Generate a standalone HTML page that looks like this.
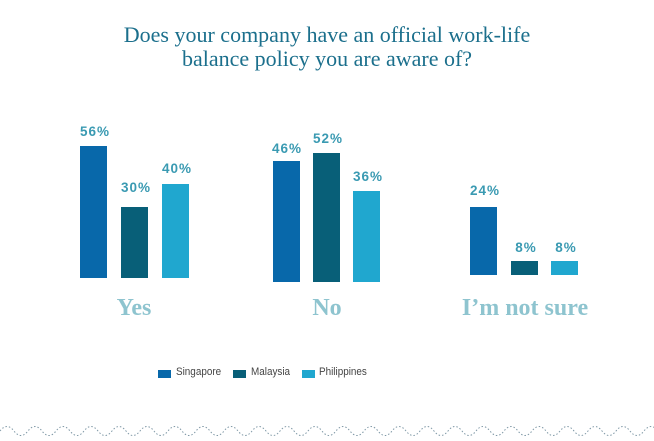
<!DOCTYPE html>
<html><head><style>
body{margin:0;background:#fff;width:654px;height:441px;overflow:hidden;position:relative;font-family:"Liberation Sans",sans-serif}
.t{position:absolute;left:0;width:654px;text-align:center;font-family:"Liberation Serif",serif;color:#1b6f8c;font-size:22px;line-height:24px}
.b{position:absolute;width:27px}
.v{position:absolute;width:50px;text-align:center;font-weight:bold;font-size:13.5px;color:#3a9ab2;letter-spacing:1px}
.c{position:absolute;width:160px;text-align:center;font-family:"Liberation Serif",serif;font-weight:bold;font-size:24px;color:#8ec4cf}
.l{position:absolute;top:366px;font-size:11px;color:#444;transform:scaleX(0.9);transform-origin:left}
.s{position:absolute;top:370px;width:13px;height:8px}
</style></head><body>
<div class="t" style="top:23px">Does your company have an official work-life<br>balance policy you are aware of?</div>

<div class="b" style="left:80px;top:146px;height:132px;background:#0868aa"></div>
<div class="b" style="left:121px;top:207px;height:71px;background:#085f78"></div>
<div class="b" style="left:162px;top:184px;height:94px;background:#20a7cf"></div>
<div class="v" style="left:70px;top:124px">56%</div>
<div class="v" style="left:111px;top:180px">30%</div>
<div class="v" style="left:152px;top:161px">40%</div>

<div class="b" style="left:273px;top:161px;height:121px;background:#0868aa"></div>
<div class="b" style="left:313px;top:153px;height:129px;background:#085f78"></div>
<div class="b" style="left:353px;top:191px;height:91px;background:#20a7cf"></div>
<div class="v" style="left:262px;top:141px">46%</div>
<div class="v" style="left:303px;top:131px">52%</div>
<div class="v" style="left:343px;top:169px">36%</div>

<div class="b" style="left:470px;top:207px;height:68px;background:#0868aa"></div>
<div class="b" style="left:511px;top:261px;height:14px;background:#085f78"></div>
<div class="b" style="left:551px;top:261px;height:14px;background:#20a7cf"></div>
<div class="v" style="left:460px;top:183px">24%</div>
<div class="v" style="left:501px;top:240px">8%</div>
<div class="v" style="left:541px;top:240px">8%</div>

<div class="c" style="left:54px;top:295px">Yes</div>
<div class="c" style="left:247px;top:295px">No</div>
<div class="c" style="left:445px;top:295px">I’m not sure</div>

<div class="s" style="left:158px;background:#0868aa"></div><div class="l" style="left:176px">Singapore</div>
<div class="s" style="left:233px;background:#085f78"></div><div class="l" style="left:251px">Malaysia</div>
<div class="s" style="left:302px;background:#20a7cf"></div><div class="l" style="left:319px">Philippines</div>

<svg style="position:absolute;left:0;top:420px" width="654" height="20">
<path d="M0 11 q7 -9 14 0 t14 0 t14 0 t14 0 t14 0 t14 0 t14 0 t14 0 t14 0 t14 0 t14 0 t14 0 t14 0 t14 0 t14 0 t14 0 t14 0 t14 0 t14 0 t14 0 t14 0 t14 0 t14 0 t14 0 t14 0 t14 0 t14 0 t14 0 t14 0 t14 0 t14 0 t14 0 t14 0 t14 0 t14 0 t14 0 t14 0 t14 0 t14 0 t14 0 t14 0 t14 0 t14 0 t14 0 t14 0 t14 0 t14 0 t14 0" fill="none" stroke="#7f98a6" stroke-width="1" stroke-dasharray="1.5 2"/>
</svg>
</body></html>
